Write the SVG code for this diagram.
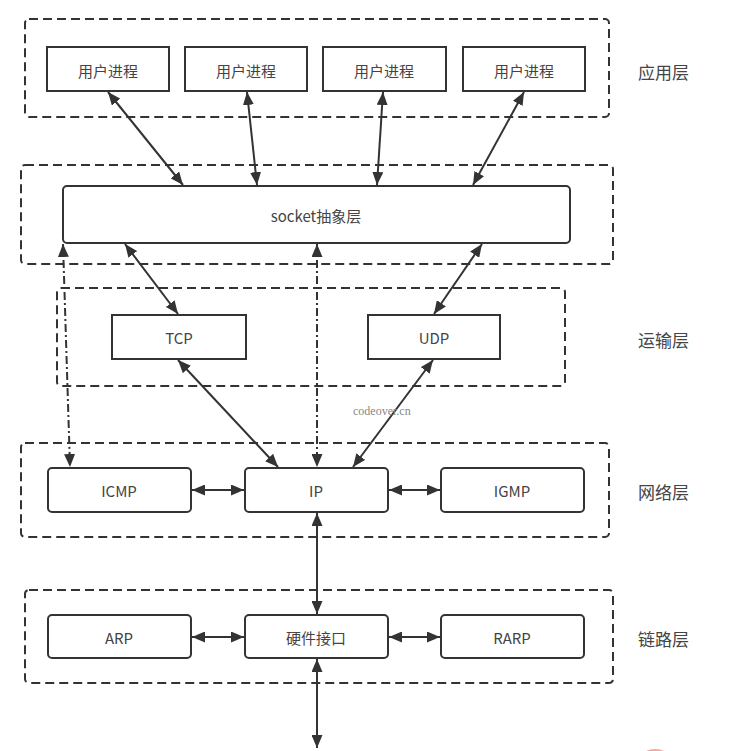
<svg xmlns="http://www.w3.org/2000/svg" width="733" height="751" viewBox="0 0 733 751">
<defs>
<marker id="ah" markerUnits="userSpaceOnUse" markerWidth="13" markerHeight="11" refX="13" refY="5.5" orient="auto-start-reverse" viewBox="0 0 13 11">
<path d="M0,0 L13,5.5 L0,11 Z" fill="#333"/>
</marker>
<style>
.layer{fill:none;stroke:#333;stroke-width:2;stroke-dasharray:9,5}
.box{fill:#fff;stroke:#333;stroke-width:2}
.t{font-family:"Noto Sans CJK SC","Noto Sans",sans-serif;font-size:15px;fill:#444;text-anchor:middle;dominant-baseline:central}
.lbl{font-family:"Noto Sans CJK SC","Noto Sans",sans-serif;font-size:17px;fill:#444;dominant-baseline:central}
.c{stroke:#333;stroke-width:2;fill:none;marker-start:url(#ah);marker-end:url(#ah)}
.dd{stroke-dasharray:8,3,2,3}
</style>
</defs>
<rect width="733" height="751" fill="#fff"/>

<g id="layers">
<rect class="layer" x="25" y="19" width="584" height="98" rx="4"/>
<rect class="layer" x="21" y="165" width="592" height="99" rx="4"/>
<rect class="layer" x="57" y="288" width="508" height="98" rx="4"/>
<rect class="layer" x="21" y="443" width="588" height="94" rx="4"/>
<rect class="layer" x="25" y="590" width="588" height="93" rx="4"/>
</g>

<g id="labels">
<text class="lbl" x="638" y="71">应用层</text>
<text class="lbl" x="638" y="339">运输层</text>
<text class="lbl" x="638" y="491">网络层</text>
<text class="lbl" x="638" y="638">链路层</text>
</g>

<g id="proc1"><rect class="box" x="47" y="47" width="122" height="44"/><text class="t" x="108" y="70">用户进程</text></g>
<g id="proc2"><rect class="box" x="185" y="47" width="122" height="44"/><text class="t" x="246" y="70">用户进程</text></g>
<g id="proc3"><rect class="box" x="323" y="47" width="123" height="44"/><text class="t" x="384" y="70">用户进程</text></g>
<g id="proc4"><rect class="box" x="463" y="47" width="122" height="44"/><text class="t" x="524" y="70">用户进程</text></g>

<g id="socket"><rect class="box" x="63" y="186" width="507" height="57" rx="4"/><text class="t" x="316" y="215">socket抽象层</text></g>

<g id="tcp"><rect class="box" x="112" y="315" width="134" height="44"/><text class="t" x="179" y="337">TCP</text></g>
<g id="udp"><rect class="box" x="368" y="315" width="132" height="44"/><text class="t" x="434" y="337">UDP</text></g>

<g id="icmp"><rect class="box" x="48" y="468" width="143" height="44" rx="4"/><text class="t" x="119" y="490">ICMP</text></g>
<g id="ip"><rect class="box" x="245" y="468" width="143" height="44" rx="4"/><text class="t" x="316" y="490">IP</text></g>
<g id="igmp"><rect class="box" x="441" y="468" width="143" height="44" rx="4"/><text class="t" x="512" y="490">IGMP</text></g>

<g id="arp"><rect class="box" x="48" y="615" width="143" height="43" rx="4"/><text class="t" x="119" y="637">ARP</text></g>
<g id="hw"><rect class="box" x="245" y="615" width="143" height="43" rx="4"/><text class="t" x="316" y="637">硬件接口</text></g>
<g id="rarp"><rect class="box" x="441" y="615" width="143" height="43" rx="4"/><text class="t" x="512" y="637">RARP</text></g>

<g id="connectors">
<line class="c" x1="108" y1="92" x2="183" y2="185"/>
<line class="c" x1="247" y1="92" x2="257" y2="185"/>
<line class="c" x1="383" y1="92" x2="377" y2="185"/>
<line class="c" x1="524" y1="92" x2="473" y2="185"/>
<line class="c" x1="125" y1="244" x2="178" y2="314"/>
<line class="c" x1="482" y1="244" x2="434" y2="314"/>
<line class="c" x1="178" y1="360" x2="278" y2="467"/>
<line class="c" x1="433" y1="360" x2="353" y2="467"/>
<line class="c dd" x1="63" y1="244" x2="70" y2="467"/>
<line class="c dd" x1="317" y1="244" x2="317" y2="467"/>
<line class="c" x1="192" y1="490" x2="244" y2="490"/>
<line class="c" x1="389" y1="490" x2="440" y2="490"/>
<line class="c" x1="317" y1="513" x2="317" y2="614"/>
<line class="c" x1="192" y1="637" x2="244" y2="637"/>
<line class="c" x1="389" y1="637" x2="440" y2="637"/>
<line class="c" x1="317" y1="659" x2="317" y2="748"/>
</g>

<text x="353" y="415" font-family="'Liberation Serif',serif" font-size="12" fill="#888">codeover.cn</text>
<ellipse cx="655" cy="762" rx="17" ry="13" fill="#f2a6a6"/>
</svg>
